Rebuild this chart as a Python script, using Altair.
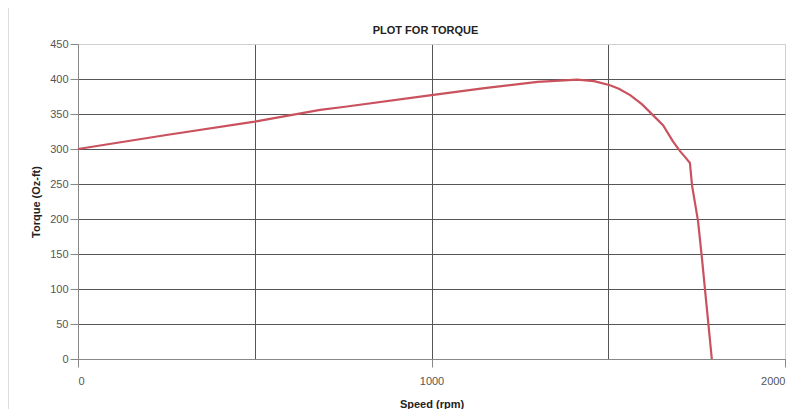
import altair as alt
import pandas as pd

speed = [0, 250, 500, 685, 750, 1000, 1150, 1300, 1412, 1460, 1505, 1530, 1562, 1595, 1627, 1655, 1683, 1703, 1720, 1731, 1737, 1754, 1765, 1779, 1793]
torque = [300, 320, 339, 356, 360, 377, 387, 396, 399, 397, 391, 386, 377, 364, 348, 334, 311, 297, 287, 280, 248, 197, 144, 72, 0]

x_ticks = [0, 500, 1000, 1500, 2000]
y_ticks = [0, 50, 100, 150, 200, 250, 300, 350, 400, 450]

df = pd.DataFrame({"speed": speed, "torque": torque, "order": list(range(len(speed)))})

W, H = 707, 315

line = alt.Chart(df).mark_line(color="#c9525e", strokeWidth=2.2, interpolate="linear").encode(
    x=alt.X("speed:Q", scale=alt.Scale(domain=[0, 2000], nice=False),
            axis=alt.Axis(values=x_ticks, title="Speed (rpm)",
                          labelExpr="datum.value % 1000 == 0 ? datum.label : ''",
                          format="d",
                          gridColor={"condition": {"test": "datum.value == 2000", "value": "#d0d0d0"}, "value": "#555555"},
                          tickColor={"condition": {"test": "datum.value % 1000 == 0", "value": "#888888"}, "value": "transparent"},
                          labelPadding=8, titlePadding=12)),
    y=alt.Y("torque:Q", scale=alt.Scale(domain=[0, 450], nice=False),
            axis=alt.Axis(values=y_ticks, title="Torque (Oz-ft)",
                          gridColor={"condition": {"test": "datum.value == 450", "value": "#d0d0d0"}, "value": "#555555"},
                          titlePadding=8)),
    order="order:Q",
)

base = alt.Chart(pd.DataFrame({"t": ["PLOT FOR TORQUE"]}))

frame = base.mark_rect(
    fill=None, stroke="#bbbbbb", strokeWidth=1, clip=False
).encode(
    x=alt.value(-70), x2=alt.value(W + 12),
    y=alt.value(-39), y2=alt.value(H + 54),
)

title = base.mark_text(
    font="Liberation Sans", fontSize=11, fontWeight="bold", color="#222222",
    align="center", baseline="alphabetic"
).encode(
    x=alt.value(W / 2 - 6), y=alt.value(-10), text="t:N"
)

chart = alt.layer(frame, line, title).properties(
    width=W, height=H,
    padding={"left": 70, "top": 36, "right": 10, "bottom": 50},
    autosize="none",
).configure_view(
    stroke="#cccccc", strokeWidth=1
).configure_axis(
    labelFont="Liberation Sans", labelFontSize=11, labelColor="#555555",
    titleFont="Liberation Sans", titleFontSize=11, titleFontWeight="bold", titleColor="#222222",
    domainColor="#888888", tickSize=8, gridWidth=1, gridOpacity=1,
)

chart.save("out.html", embed_options={"renderer": "svg", "actions": False})
